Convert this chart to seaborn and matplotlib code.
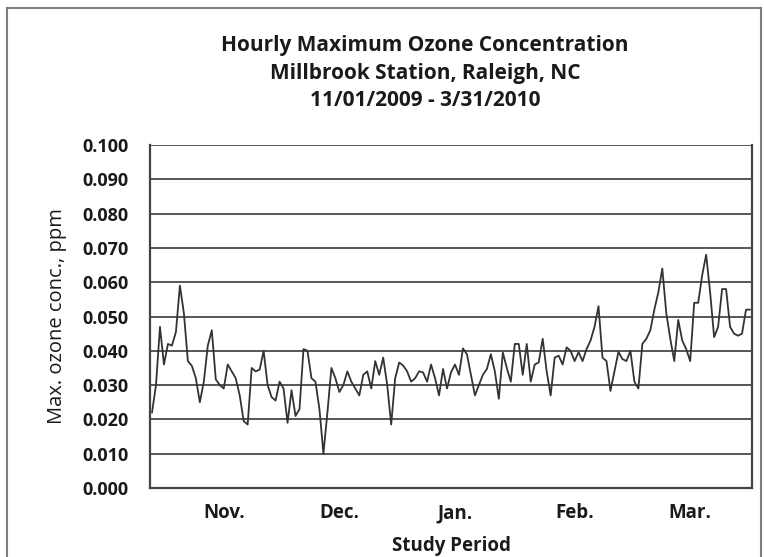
import matplotlib
matplotlib.use("Agg")
import matplotlib.pyplot as plt
import seaborn as sns
import pandas as pd
import numpy as np
from matplotlib.patches import Rectangle

# ---- data (daily max ozone, ppm), 11/01/2009 - 3/31/2010 ----
nov = [0.022, 0.030, 0.047, 0.036, 0.042, 0.0415, 0.0455, 0.059, 0.051, 0.037,
       0.0356, 0.032, 0.025, 0.031, 0.0415, 0.046, 0.0317, 0.030, 0.029, 0.036,
       0.034, 0.032, 0.027, 0.0195, 0.0185, 0.035, 0.034, 0.0345, 0.040, 0.030]
dec = [0.0265, 0.0255, 0.031, 0.029, 0.019, 0.0285, 0.021, 0.023, 0.0405, 0.040,
       0.032, 0.031, 0.023, 0.010, 0.022, 0.035, 0.032, 0.028, 0.030, 0.034,
       0.031, 0.029, 0.027, 0.033, 0.034, 0.029, 0.037, 0.033, 0.038, 0.030,
       0.0185]
jan = [0.032, 0.0366, 0.0357, 0.034, 0.031, 0.032, 0.034, 0.0337, 0.031, 0.036,
       0.032, 0.027, 0.0347, 0.029, 0.0337, 0.036, 0.033, 0.0407, 0.039, 0.033,
       0.027, 0.030, 0.033, 0.0347, 0.039, 0.034, 0.026, 0.0395, 0.035, 0.031,
       0.042]
feb = [0.042, 0.033, 0.042, 0.031, 0.036, 0.0366, 0.0435, 0.034, 0.027, 0.038,
       0.0386, 0.036, 0.041, 0.040, 0.037, 0.0396, 0.037, 0.0405, 0.043, 0.047,
       0.053, 0.038, 0.037, 0.0283, 0.034, 0.0397, 0.0376, 0.037]
mar = [0.040, 0.031, 0.029, 0.042, 0.0435, 0.046, 0.052, 0.057, 0.064, 0.051,
       0.0435, 0.037, 0.049, 0.043, 0.0405, 0.037, 0.054, 0.054, 0.062, 0.068,
       0.057, 0.044, 0.047, 0.058, 0.058, 0.047, 0.045, 0.0444, 0.045, 0.052,
       0.052]
ozone = nov + dec + jan + feb + mar
dates = pd.date_range("2009-11-01", "2010-03-31", freq="D")
month_labels = ["Nov.", "Dec.", "Jan.", "Feb.", "Mar."]
month_tick_days = [18, 47, 76, 106, 135]
y_ticks = [0.000, 0.010, 0.020, 0.030, 0.040, 0.050, 0.060, 0.070, 0.080, 0.090, 0.100]

df = pd.DataFrame({"day": np.arange(len(ozone)), "ozone": ozone, "date": dates[:len(ozone)]})

sns.set_theme(style="white")
plt.rcParams["font.family"] = ["Open Sans", "DejaVu Sans"]

W, H = 764, 557
fig = plt.figure(figsize=(W / 100, H / 100), dpi=100)
ax = fig.add_axes([150 / W, 1 - 488 / H, (752 - 150) / W, (488 - 145) / H])

for yv in y_ticks[1:]:
    ax.axhline(yv, color="#3a3a3a", lw=1.2, zorder=1)

sns.lineplot(data=df, x="day", y="ozone", ax=ax, color="#333333", lw=1.3, zorder=3)

ax.set_xlim(-0.5, len(ozone) - 0.5)
ax.set_ylim(0, 0.100)
ax.set_yticks(y_ticks)
ax.set_yticklabels([f"{v:.3f}" for v in y_ticks], fontsize=13, fontweight="bold", color="#1a1a1a")
ax.set_xticks(month_tick_days)
ax.set_xticklabels(month_labels, fontsize=13.5, fontweight="bold", color="#1a1a1a")
ax.tick_params(axis="y", direction="inout", length=11, width=1.2, color="#3a3a3a", pad=10)
ax.tick_params(axis="x", length=0, pad=11)

ax.set_xlabel("Study Period", fontsize=13.5, fontweight="bold", color="#1a1a1a", labelpad=9)
ax.set_ylabel("Max. ozone conc., ppm", fontsize=14.5, color="#1a1a1a", labelpad=11)

for side in ["left", "right", "bottom"]:
    ax.spines[side].set_visible(True)
    ax.spines[side].set_color("#444444")
    ax.spines[side].set_linewidth(1.6)
ax.spines["top"].set_visible(False)

for txt, yy in [("Hourly Maximum Ozone Concentration", 45),
                ("Millbrook Station, Raleigh, NC", 73),
                ("11/01/2009 - 3/31/2010", 101)]:
    fig.text(425 / W, 1 - yy / H, txt, ha="center", va="center",
             fontsize=15, fontweight="bold", color="#1a1a1a")

fig.patches.append(Rectangle((7 / W, -0.05), (761 - 7) / W, 1 - 8 / H + 0.05,
                             transform=fig.transFigure, fill=False,
                             edgecolor="#808080", lw=1.5))

fig.savefig("out.png", dpi=100)
